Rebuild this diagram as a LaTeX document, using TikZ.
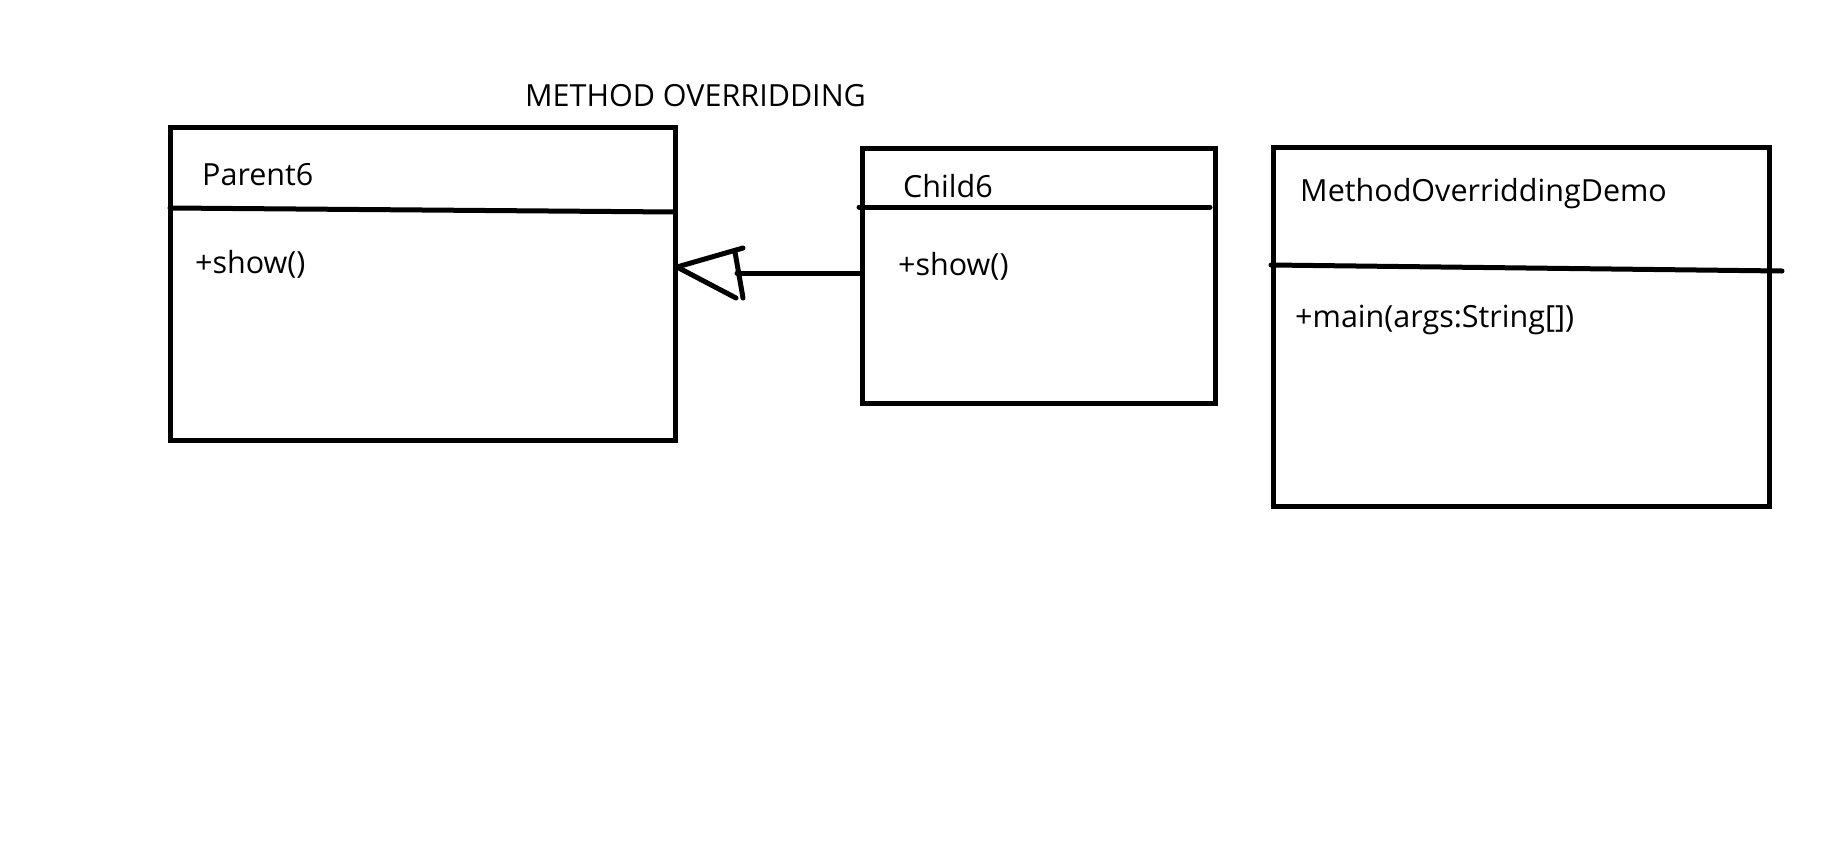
\documentclass[tikz,border=0pt]{standalone}
\usepackage{fontspec}
\setmainfont{Open Sans}
\begin{document}
\begin{tikzpicture}[x=1pt,y=-1pt,
  umlbox/.style={draw=black,line width=5pt,rectangle,inner sep=0pt,outer sep=0pt},
  stroke/.style={draw=black,line width=5pt,line cap=round},
  lbl/.style={anchor=base west,inner sep=0pt,font=\fontsize{30.5}{34}\selectfont}]
\useasboundingbox[fill=white] (0,0) rectangle (1831,846);
% title
\node[lbl] (title) at (525,106) {METHOD OVERRIDDING};
% boxes
\node[umlbox,minimum width=505pt,minimum height=313pt] (parent) at (422.5,283.5) {};
\node[umlbox,minimum width=353pt,minimum height=255pt] (child) at (1038.5,275.5) {};
\node[umlbox,minimum width=496pt,minimum height=359pt] (demo) at (1521,326.5) {};
% dividers
\coordinate (pdl) at (170,208); \coordinate (pdr) at (675,212);
\coordinate (cdl) at (859,207); \coordinate (cdr) at (1210,207);
\coordinate (ddl) at (1271,265); \coordinate (ddr) at (1782,271);
\draw[stroke] (pdl) -- (pdr);
\draw[stroke] (cdl) -- (cdr);
\draw[stroke] (ddl) -- (ddr);
% texts
\node[lbl] (pname) at (202,185) {Parent6};
\node[lbl] (pop) at (195,273) {+show()};
\node[lbl] (cname) at (903,197) {Child6};
\node[lbl] (cop) at (898,275) {+show()};
\node[lbl] (dname) at (1300,201) {MethodOverriddingDemo};
\node[lbl] (dop) at (1295,327) {+main(args:String[])};
% generalization arrow (hand drawn)
\coordinate (tip) at (677,267);
\coordinate (tu) at (743,248);
\coordinate (tl) at (736,298);
\coordinate (bu) at (735,252);
\coordinate (bl) at (743,298);
\coordinate (hb) at (737,273);
\draw[stroke] (child.west |- hb) -- (hb);
\draw[stroke] (tip) -- (tu);
\draw[stroke] (tip) -- (tl);
\draw[stroke] (bu) -- (bl);
\end{tikzpicture}
\end{document}
